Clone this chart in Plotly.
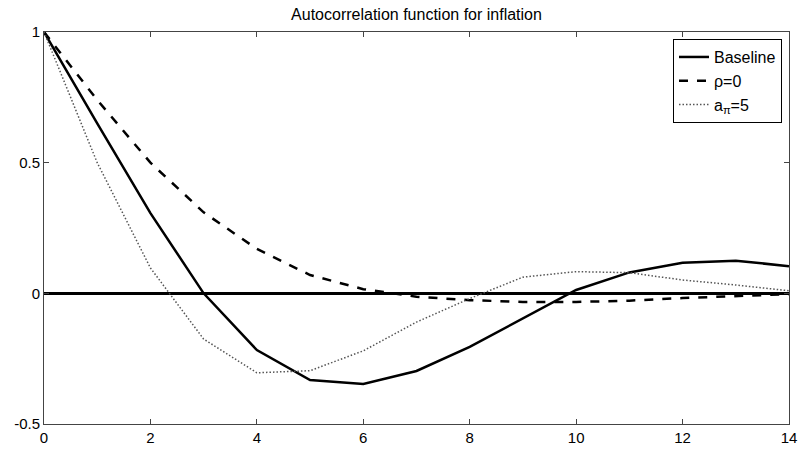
import plotly.graph_objects as go

lags = list(range(15))
baseline = [1.0, 0.65, 0.307, 0.0, -0.217, -0.332, -0.347, -0.297, -0.205, -0.095, 0.013, 0.08, 0.117, 0.125, 0.104]
rho0 = [1.0, 0.74, 0.50, 0.31, 0.17, 0.07, 0.016, -0.013, -0.026, -0.033, -0.033, -0.028, -0.018, -0.01, -0.003]
api5 = [1.0, 0.50, 0.097, -0.175, -0.304, -0.296, -0.22, -0.11, -0.02, 0.062, 0.083, 0.079, 0.051, 0.032, 0.01]

names = ["Baseline", "ρ=0", "a<sub>π</sub>=5"]
FONT = "Liberation Sans, Arial, sans-serif"

fig = go.Figure()
fig.add_trace(go.Scatter(x=lags, y=baseline, mode="lines", name=names[0],
                         line=dict(color="black", width=2.5)))
fig.add_trace(go.Scatter(x=lags, y=rho0, mode="lines", name=names[1],
                         line=dict(color="black", width=2.5, dash="dash")))
fig.add_trace(go.Scatter(x=lags, y=api5, mode="lines", name=names[2],
                         line=dict(color="#555555", width=1.5, dash="1.5px,2px")))

axis_common = dict(showgrid=False, showline=True, linecolor="#444444", linewidth=1,
                   mirror="ticks", ticks="inside", ticklen=5, tickcolor="#444444",
                   automargin=False,
                   tickfont=dict(family=FONT, size=15, color="black"))

fig.update_layout(
    width=800, height=453,
    margin=dict(l=44, r=11, t=32, b=29, pad=0),
    paper_bgcolor="white", plot_bgcolor="white",
    title=dict(text="Autocorrelation function for inflation", x=0.5, xanchor="center",
               xref="paper", y=0.969, yanchor="middle", pad=dict(t=0, b=0),
               font=dict(family=FONT, size=16, color="black")),
    xaxis=dict(range=[0, 14], tickvals=[0, 2, 4, 6, 8, 10, 12, 14], zeroline=False, **axis_common),
    yaxis=dict(range=[-0.5, 1], tickvals=[-0.5, 0, 0.5, 1], ticktext=["-0.5", "0", "0.5", "1"],
               zeroline=True, zerolinecolor="black", zerolinewidth=2.5, **axis_common),
    legend=dict(x=0.9906, y=0.982, xanchor="right", yanchor="top",
                bgcolor="white", bordercolor="black", borderwidth=1,
                font=dict(family=FONT, size=16, color="black"),
                tracegroupgap=0),
    showlegend=True,
)

fig.write_html("out.html", config={"displayModeBar": False},
               post_script="document.body.style.margin='0';document.body.style.overflow='hidden';")
